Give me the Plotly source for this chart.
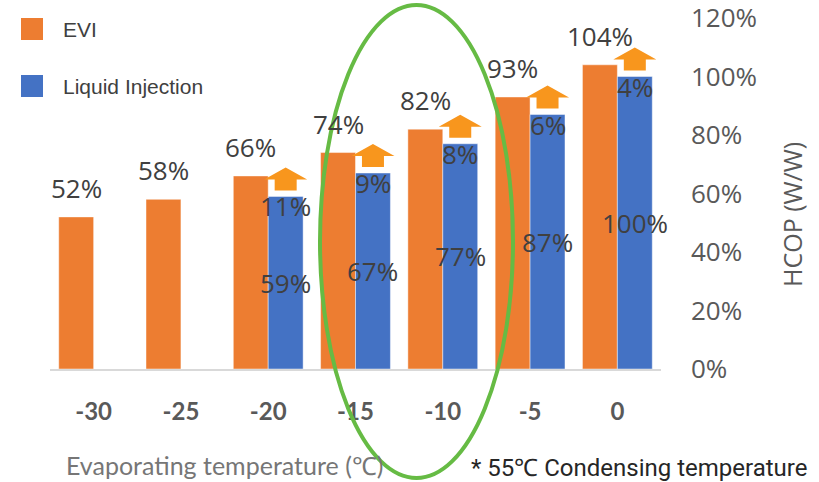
import plotly.graph_objects as go

# ---------------- data ----------------
categories = ["-30", "-25", "-20", "-15", "-10", "-5", "0"]
evi = [52, 58, 66, 74, 82, 93, 104]
liquid = [None, None, 59, 67, 77, 87, 100]
increase = [None, None, 11, 9, 8, 6, 4]
y_ticks = [0, 20, 40, 60, 80, 100, 120]
y_tick_text = [f"{v}%" for v in y_ticks]

# ---------------- geometry / style ----------------
W, H = 819, 482
L, R, T, B = 50, 158, 18, 113
PW = W - L - R
PH = H - T - B
Y_MAX = 120
PX_PER_Y = PH / Y_MAX
PX_PER_X = PW / len(categories)

ORANGE = "#ED7D31"
BLUE = "#4472C4"
ARROW = "#F8961D"
GREEN = "#66BB44"
LABEL = "#404040"
AXIS_TXT = "#595959"


def paper_x(px):
    return (px - L) / PW


def paper_y(py):
    return (H - B - py) / PH


xs = list(range(len(categories)))

fig = go.Figure()
fig.add_trace(go.Bar(x=xs, y=evi, name="EVI", marker=dict(color=ORANGE, line=dict(color="rgba(255,255,255,0.45)", width=1))))
fig.add_trace(go.Bar(x=xs, y=liquid, name="Liquid Injection", marker=dict(color=BLUE, line=dict(color="rgba(255,255,255,0.45)", width=1))))

# block arrows above the liquid-injection bars (built from the data)
head_hw = 21.5 / PX_PER_X
stem_hw = 11 / PX_PER_X
stem_h = 11 / PX_PER_Y
head_h = 12 / PX_PER_Y
gap = 6 / PX_PER_Y
for i, v in enumerate(liquid):
    if v is None:
        continue
    cx = i + 0.2
    b = v + gap
    ax = [cx - stem_hw, cx + stem_hw, cx + stem_hw, cx + head_hw, cx, cx - head_hw, cx - stem_hw, cx - stem_hw]
    ay = [b, b, b + stem_h, b + stem_h, b + stem_h + head_h, b + stem_h, b + stem_h, b]
    fig.add_trace(go.Scatter(x=ax, y=ay, mode="lines", fill="toself", fillcolor=ARROW,
                             line=dict(width=0, color=ARROW), hoverinfo="skip", showlegend=False))

LBL_FONT = dict(family="Open Sans", size=26, color=LABEL)
ann = []
for i, v in enumerate(evi):
    ann.append(dict(x=i - 0.2, y=v, xref="x", yref="y", text=f"{v}%", showarrow=False,
                    yshift=29, font=LBL_FONT))
for i, v in enumerate(liquid):
    if v is None:
        continue
    ann.append(dict(x=i + 0.2, y=v / 2, xref="x", yref="y", text=f"{v}%", showarrow=False,
                    font=LBL_FONT))
for i, v in enumerate(increase):
    if v is None:
        continue
    ann.append(dict(x=i + 0.2, y=liquid[i], xref="x", yref="y", text=f"{v}%", showarrow=False,
                    yshift=-10, font=LBL_FONT))

# axis title (right)
ann.append(dict(x=paper_x(792), y=paper_y(215), xref="paper", yref="paper", text="HCOP (W/W)",
                xanchor="center", yanchor="middle",
                textangle=-90, showarrow=False, font=dict(family="Open Sans", size=25, color=AXIS_TXT)))
# x title and footnote
ann.append(dict(x=paper_x(64), y=paper_y(465), xref="paper", yref="paper", xanchor="left",
                yanchor="middle", text="Evaporating temperature (℃)", showarrow=False,
                font=dict(family="Lato", size=25, color="#767676")))
ann.append(dict(x=paper_x(469), y=paper_y(468), xref="paper", yref="paper", xanchor="left",
                yanchor="middle", text="* 55℃ Condensing temperature", showarrow=False,
                font=dict(family="Liberation Sans Narrow, Roboto", size=24, color="#262626")))
# legend
for name, color, cy in [("EVI", ORANGE, 29), ("Liquid Injection", BLUE, 86)]:
    ann.append(dict(x=paper_x(61), y=paper_y(cy), xref="paper", yref="paper", xanchor="left",
                    yanchor="middle", text=name, showarrow=False,
                    font=dict(family="Liberation Sans", size=21, color=LABEL)))

shapes = []
for color, cy in [(ORANGE, 29), (BLUE, 86)]:
    shapes.append(dict(type="rect", xref="paper", yref="paper", x0=paper_x(21), x1=paper_x(43),
                       y0=paper_y(cy + 11), y1=paper_y(cy - 11), fillcolor=color, line=dict(width=0)))
shapes.append(dict(type="circle", xref="paper", yref="paper", x0=paper_x(320), x1=paper_x(513),
                   y0=paper_y(478), y1=paper_y(5), line=dict(color=GREEN, width=4), layer="above"))

fig.update_layout(
    width=W, height=H,
    margin=dict(l=L, r=R, t=T, b=B, autoexpand=False),
    paper_bgcolor="white", plot_bgcolor="white",
    barmode="group", bargap=0.2, bargroupgap=0,
    showlegend=False,
    annotations=ann, shapes=shapes,
    xaxis=dict(range=[-0.5, len(categories) - 0.5], tickvals=xs, ticktext=categories,
               tickfont=dict(family="Lato", size=24, color=AXIS_TXT, weight="bold"),
               showline=True, linecolor="#D9D9D9", linewidth=2, ticks="",
               showgrid=False, zeroline=False, ticklabelstandoff=20, fixedrange=True,
               automargin=False),
    yaxis=dict(range=[0, Y_MAX], side="right", tickmode="array", tickvals=y_ticks,
               ticktext=y_tick_text, ticklabeloverflow="allow",
               tickfont=dict(family="Open Sans", size=26, color=AXIS_TXT),
               showgrid=False, zeroline=False, showline=False, ticks="",
               ticklabelstandoff=29, fixedrange=True, automargin=False),
)

fig.write_html("out.html", config={"displayModeBar": False},
               post_script="document.body.style.margin='0';document.body.style.overflow='hidden';")
